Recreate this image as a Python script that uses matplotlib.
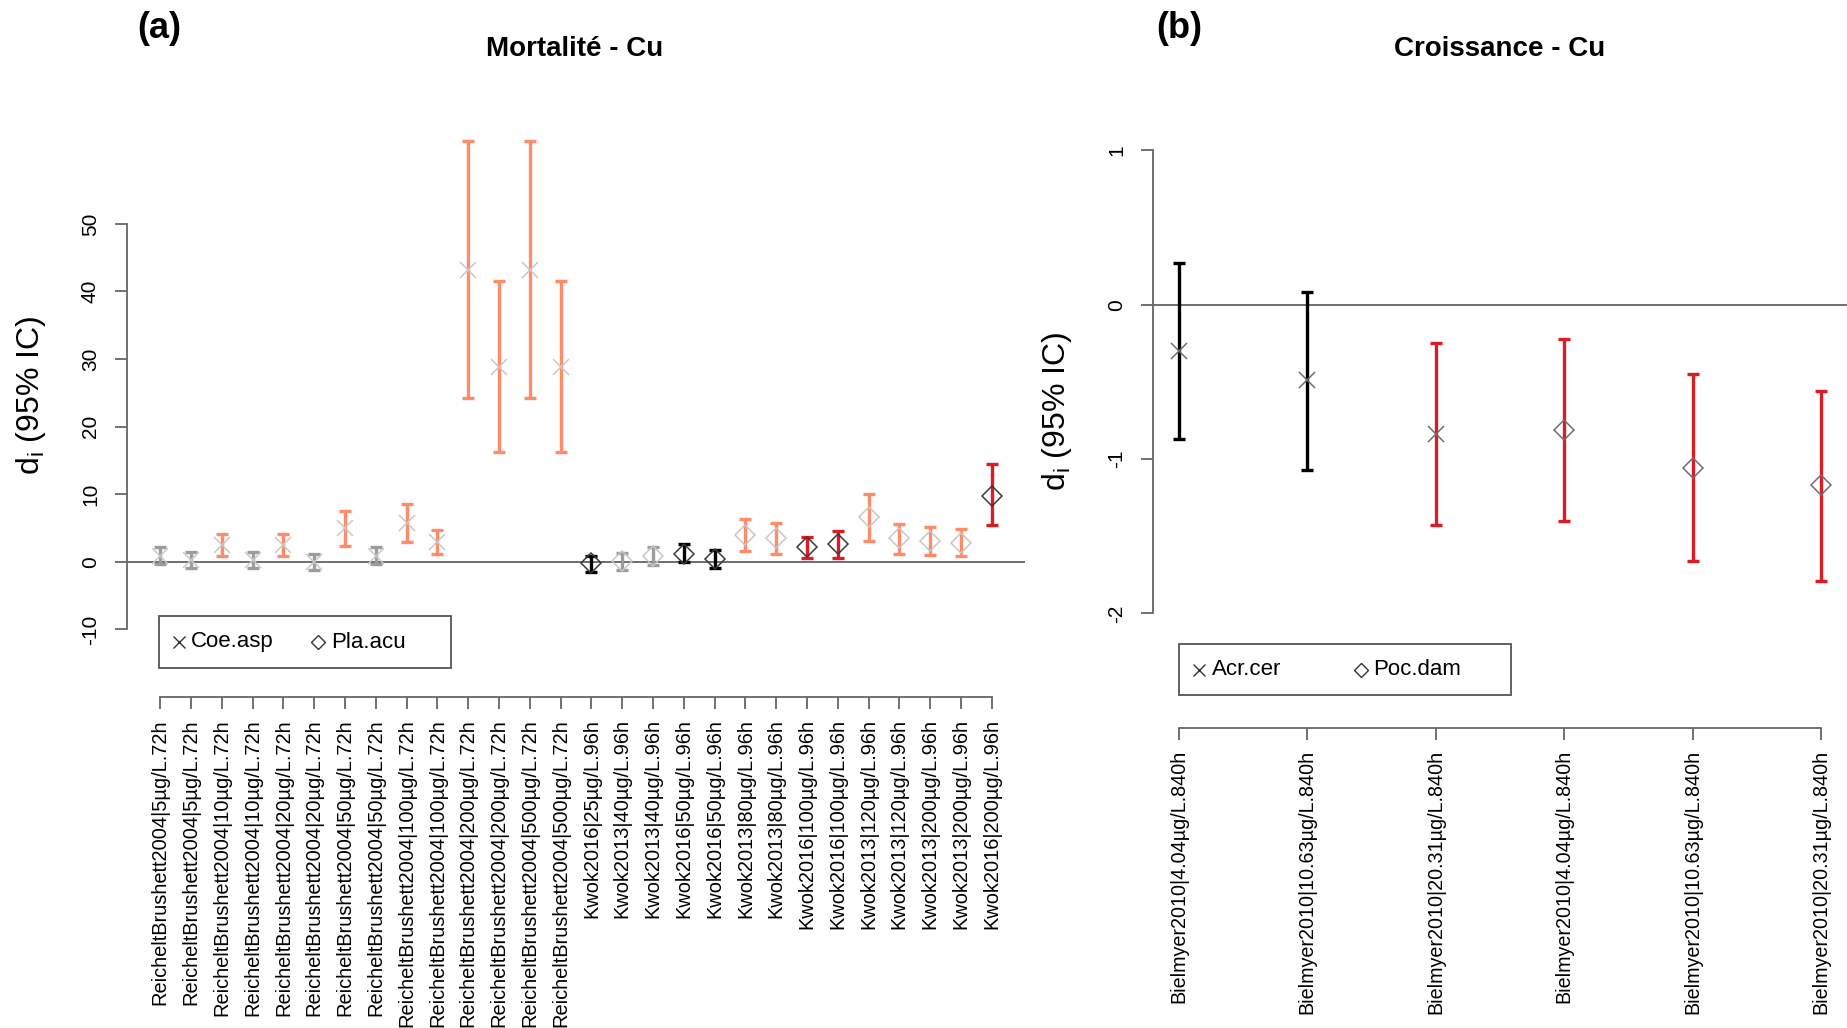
import matplotlib
matplotlib.use('Agg')
import matplotlib.pyplot as plt
from matplotlib.lines import Line2D
from matplotlib.patches import Rectangle

plt.rcParams['font.family'] = 'Liberation Sans'
plt.rcParams['mathtext.default'] = 'regular'

# ---- Panel (a): Mortalité - Cu ----
labels_a = [
    'ReicheltBrushett2004|5µg/L.72h', 'ReicheltBrushett2004|5µg/L.72h',
    'ReicheltBrushett2004|10µg/L.72h', 'ReicheltBrushett2004|10µg/L.72h',
    'ReicheltBrushett2004|20µg/L.72h', 'ReicheltBrushett2004|20µg/L.72h',
    'ReicheltBrushett2004|50µg/L.72h', 'ReicheltBrushett2004|50µg/L.72h',
    'ReicheltBrushett2004|100µg/L.72h', 'ReicheltBrushett2004|100µg/L.72h',
    'ReicheltBrushett2004|200µg/L.72h', 'ReicheltBrushett2004|200µg/L.72h',
    'ReicheltBrushett2004|500µg/L.72h', 'ReicheltBrushett2004|500µg/L.72h',
    'Kwok2016|25µg/L.96h', 'Kwok2013|40µg/L.96h', 'Kwok2013|40µg/L.96h',
    'Kwok2016|50µg/L.96h', 'Kwok2016|50µg/L.96h',
    'Kwok2013|80µg/L.96h', 'Kwok2013|80µg/L.96h',
    'Kwok2016|100µg/L.96h', 'Kwok2016|100µg/L.96h',
    'Kwok2013|120µg/L.96h', 'Kwok2013|120µg/L.96h',
    'Kwok2013|200µg/L.96h', 'Kwok2013|200µg/L.96h',
    'Kwok2016|200µg/L.96h',
]
mid_a = [0.9, 0.3, 2.5, 0.3, 2.5, -0.1, 5.0, 0.9, 5.7, 2.9,
         43.2, 28.8, 43.2, 28.8,
         -0.2, 0.1, 0.8, 1.2, 0.45, 4.0, 3.45, 2.15, 2.6,
         6.7, 3.45, 3.05, 2.8, 9.8]
lo_a = [-0.3, -0.9, 0.8, -0.9, 0.8, -1.25, 2.4, -0.3, 2.9, 1.1,
        24.3, 16.2, 24.3, 16.2,
        -1.5, -1.25, -0.5, -0.1, -0.9, 1.6, 1.2, 0.5, 0.6,
        3.05, 1.2, 1.0, 0.9, 5.4]
hi_a = [2.2, 1.5, 4.1, 1.5, 4.1, 1.1, 7.5, 2.2, 8.5, 4.75,
        62.2, 41.5, 62.2, 41.5,
        0.9, 1.3, 2.15, 2.6, 1.75, 6.4, 5.7, 3.6, 4.6,
        10.1, 5.6, 5.15, 4.9, 14.4]
# bar category: n = not significant (grey), p = positive (salmon),
# k = reference (black), r = strong (red)
cat_a = ['n', 'n', 'p', 'n', 'p', 'n', 'p', 'n', 'p', 'p',
         'p', 'p', 'p', 'p',
         'k', 'n', 'n', 'k', 'k', 'p', 'p', 'r', 'r',
         'p', 'p', 'p', 'p', 'r']
species_a = ['Coe.asp'] * 14 + ['Pla.acu'] * 14
shade_a = ['l'] * 14 + ['d', 'l', 'l', 'd', 'd', 'l', 'l', 'd', 'd',
                        'l', 'l', 'l', 'l', 'd']
yticks_a = [-10, 0, 10, 20, 30, 40, 50]

# ---- Panel (b): Croissance - Cu ----
labels_b = [
    'Bielmyer2010|4.04µg/L.840h', 'Bielmyer2010|10.63µg/L.840h',
    'Bielmyer2010|20.31µg/L.840h', 'Bielmyer2010|4.04µg/L.840h',
    'Bielmyer2010|10.63µg/L.840h', 'Bielmyer2010|20.31µg/L.840h',
]
mid_b = [-0.30, -0.49, -0.84, -0.81, -1.06, -1.17]
lo_b = [-0.87, -1.07, -1.43, -1.40, -1.66, -1.79]
hi_b = [0.27, 0.08, -0.25, -0.22, -0.45, -0.56]
cat_b = ['k', 'k', 'r', 'r', 'r', 'r']
species_b = ['Acr.cer', 'Acr.cer', 'Acr.cer', 'Poc.dam', 'Poc.dam', 'Poc.dam']
yticks_b = [-2, -1, 0, 1]

bar_colors = {'n': '#9c9c9c', 'p': '#ff8c69', 'k': '#000000', 'r': '#dc1c24'}
shade_colors = {'l': '#c8c8c8', 'd': '#3a3a3a'}

W, H = 1847, 1028
fig = plt.figure(figsize=(W / 100, H / 100), dpi=100)


def fx(x):
    return x / W


def fy(y):
    return 1 - y / H


def style_axes(ax, ylo, yhi, yticks, n):
    for s in ['top', 'right']:
        ax.spines[s].set_visible(False)
    ax.spines['left'].set_bounds(yticks[0], yticks[-1])
    ax.spines['bottom'].set_bounds(1, n)
    for s in ['left', 'bottom']:
        ax.spines[s].set_color('#666666')
        ax.spines[s].set_linewidth(1.3)
    ax.set_ylim(ylo, yhi)
    ax.set_yticks(yticks)
    ax.set_yticklabels([str(t) for t in yticks], fontsize=15, rotation=90, va='center')
    ax.tick_params(axis='both', direction='out', length=8.5, width=1.3, color='#666666')
    ax.tick_params(axis='y', pad=11)
    ax.tick_params(axis='x', pad=7.5)
    ax.axhline(0, color='#555555', lw=1.2, zorder=1)


def draw_points(ax, mid, lo, hi, cats, markers, mcolors, msize):
    xs = list(range(1, len(mid) + 1))
    for x, m, l, h, c, mk, mc in zip(xs, mid, lo, hi, cats, markers, mcolors):
        ax.errorbar([x], [m], yerr=[[m - l], [h - m]], fmt='none',
                    ecolor=bar_colors[c], elinewidth=2.4, capsize=4, capthick=2.4, zorder=2)
        size = msize if mk == 'x' else msize * 0.85
        ax.plot([x], [m], marker=mk, ms=size, mew=1.1, mfc='none', mec=mc,
                linestyle='none', zorder=3)


# Panel (a)
ax_a = fig.add_axes([fx(127), fy(697), fx(1025 - 127), (697 - 125.8) / H])
n_a = len(mid_a)
mk_a = ['x' if s == 'Coe.asp' else 'D' for s in species_a]
mc_a = [shade_colors[s] for s in shade_a]
draw_points(ax_a, mid_a, lo_a, hi_a, cat_a, mk_a, mc_a, 12)
ax_a.set_xlim(1 - 0.04 * (n_a - 1), n_a + 0.04 * (n_a - 1))
style_axes(ax_a, -20, 64.5, yticks_a, n_a)
ax_a.set_xticks(range(1, n_a + 1))
ax_a.set_xticklabels(labels_a, rotation=90, fontsize=14.4)

# Panel (b)
ax_b = fig.add_axes([fx(1153), fy(728), fx(1847 - 1153), (728 - 100) / H])
n_b = len(mid_b)
mk_b = ['x' if s == 'Acr.cer' else 'D' for s in species_b]
draw_points(ax_b, mid_b, lo_b, hi_b, cat_b, mk_b, ['#6e6e6e'] * n_b, 12)
ax_b.set_xlim(1 - 0.04 * (n_b - 1), n_b + 0.04 * (n_b - 1))
style_axes(ax_b, -2.743, 1.327, yticks_b, n_b)
ax_b.set_xticks(range(1, n_b + 1))
ax_b.set_xticklabels(labels_b, rotation=90, fontsize=14.2)

# titles, panel letters, y labels
fig.text(fx(575), fy(49), 'Mortalité - Cu', ha='center', va='center',
         fontsize=20, fontweight='bold')
fig.text(fx(1500), fy(49), 'Croissance - Cu', ha='center', va='center',
         fontsize=20, fontweight='bold')
fig.text(fx(159), fy(29), '(a)', ha='center', va='center', fontsize=26, fontweight='bold')
fig.text(fx(1179), fy(29), '(b)', ha='center', va='center', fontsize=26, fontweight='bold')
fig.text(fx(31), fy(395), 'd$_i$ (95% IC)', rotation=90, ha='center', va='center', fontsize=23)
fig.text(fx(1057), fy(411), 'd$_i$ (95% IC)', rotation=90, ha='center', va='center', fontsize=23)


# legends drawn as a framed box with two entries
def draw_legend(x0, y0, x1, y1, names, mx, tx):
    fig.add_artist(Rectangle((fx(x0), fy(y1)), fx(x1 - x0), (y1 - y0) / H,
                             transform=fig.transFigure, fill=False,
                             edgecolor='#555555', lw=1.3))
    yc = (y0 + y1) / 2
    for name, mkr, xm, xt in zip(names, ['x', 'D'], mx, tx):
        fig.add_artist(Line2D([fx(xm)], [fy(yc)], marker=mkr, ms=9 if mkr == 'x' else 7,
                              mew=1.0, mfc='none', mec='#333333',
                              transform=fig.transFigure))
        fig.text(fx(xt), fy(yc), name, ha='left', va='center', fontsize=16)


draw_legend(159, 616, 451, 668, ['Coe.asp', 'Pla.acu'], [179, 318], [191, 331])
draw_legend(1179, 644, 1511, 695, ['Acr.cer', 'Poc.dam'], [1199, 1361], [1212, 1373])

fig.savefig('out.png', dpi=100)
